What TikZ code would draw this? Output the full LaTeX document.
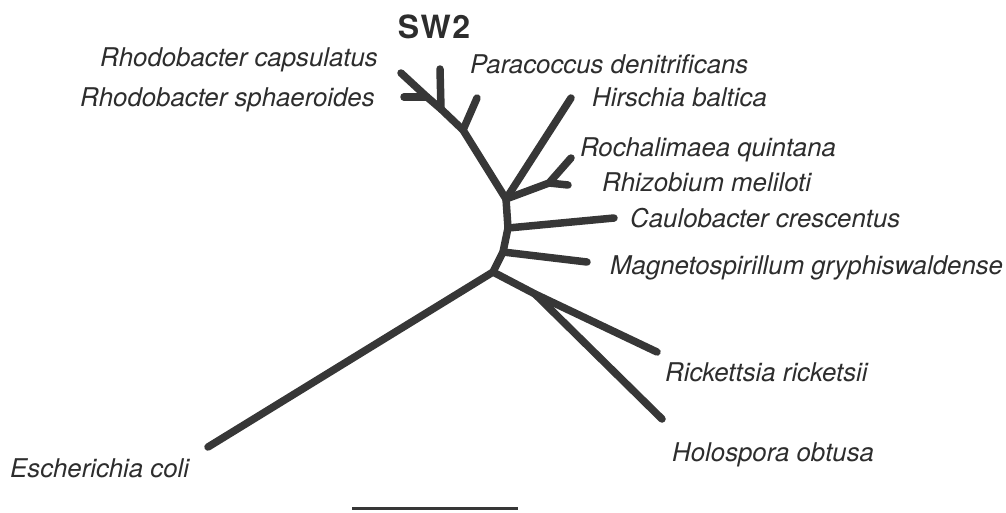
\documentclass[tikz,border=0pt]{standalone}
\usepackage{fontspec}
\setmainfont{TeX Gyre Heros}
\usepackage{tikz}
\usetikzlibrary{positioning}
\definecolor{treegray}{RGB}{55,55,55}
\definecolor{labelgray}{RGB}{45,45,45}
\tikzset{
  branch/.style={line width=7.5pt,treegray,line cap=round,line join=round},
  taxon/.style={inner sep=0pt,anchor=base west,text=labelgray,font=\fontsize{25.8}{30}\selectfont\itshape}
}
\begin{document}
\begin{tikzpicture}[x=1pt,y=-1pt]
  \useasboundingbox (0,0) rectangle (1006,512);
  % Inner nodes
  \coordinate (root) at (493,272);
  \coordinate (rick) at (535,294);
  \coordinate (magn) at (503,252);
  \coordinate (caul) at (508,228);
  \coordinate (core) at (506,199);
  \coordinate (rhiz) at (549,183);
  \coordinate (upper) at (463,130);
  \coordinate (para) at (441,109);
  \coordinate (rhod) at (427,97);
  % Tips
  \coordinate (tEco) at (208,447);
  \coordinate (tRic) at (657,352);
  \coordinate (tHol) at (662,419);
  \coordinate (tMag) at (587,262);
  \coordinate (tCau) at (614,218);
  \coordinate (tHir) at (571,98);
  \coordinate (tRoc) at (571,158);
  \coordinate (tRhi) at (568,185);
  \coordinate (tSW) at (477,98);
  \coordinate (tPar) at (440,69);
  \coordinate (tCap) at (401,73);
  \coordinate (tSph) at (404,97);
  % Branches
  \draw[branch] (tEco) -- (root);
  \draw[branch] (root) -- (rick) -- (tRic);
  \draw[branch] (rick) -- (tHol);
  \draw[branch] (root) -- (magn) -- (caul) -- (core) -- (upper) -- (para) -- (rhod) -- (tCap);
  \draw[branch] (magn) -- (tMag);
  \draw[branch] (caul) -- (tCau);
  \draw[branch] (core) -- (tHir);
  \draw[branch] (core) -- (rhiz) -- (tRoc);
  \draw[branch] (rhiz) -- (tRhi);
  \draw[branch] (upper) -- (tSW);
  \draw[branch] (para) -- (tPar);
  \draw[branch] (rhod) -- (tSph);
  % Labels
  \node[taxon] (lCap) at (100,66) {Rhodobacter capsulatus};
  \node[taxon] (lSph) at (80,106) {Rhodobacter sphaeroides};
  \node[taxon] (lPar) at (470,73) {Paracoccus denitrificans};
  \node[taxon] (lHir) at (592,106) {Hirschia baltica};
  \node[taxon] (lRoc) at (580,156) {Rochalimaea quintana};
  \node[taxon] (lRhi) at (602,191) {Rhizobium meliloti};
  \node[taxon] (lCau) at (630,227) {Caulobacter crescentus};
  \node[taxon] (lMag) at (610,274) {Magnetospirillum gryphiswaldense};
  \node[taxon] (lRic) at (665,381) {Rickettsia ricketsii};
  \node[taxon] (lHol) at (672,461) {Holospora obtusa};
  \node[taxon] (lEco) at (10,477) {Escherichia coli};
  \node[inner sep=0pt,text=labelgray,font=\fontsize{32}{36}\selectfont\bfseries] (sw) at (434,27) {S\kern1.5pt W\kern1.5pt 2};
  % Scale bar
  \coordinate (barL) at (352,508);
  \coordinate (barR) at (518,508);
  \draw[line width=3pt,treegray] (barL) -- (barR);
\end{tikzpicture}
\end{document}
